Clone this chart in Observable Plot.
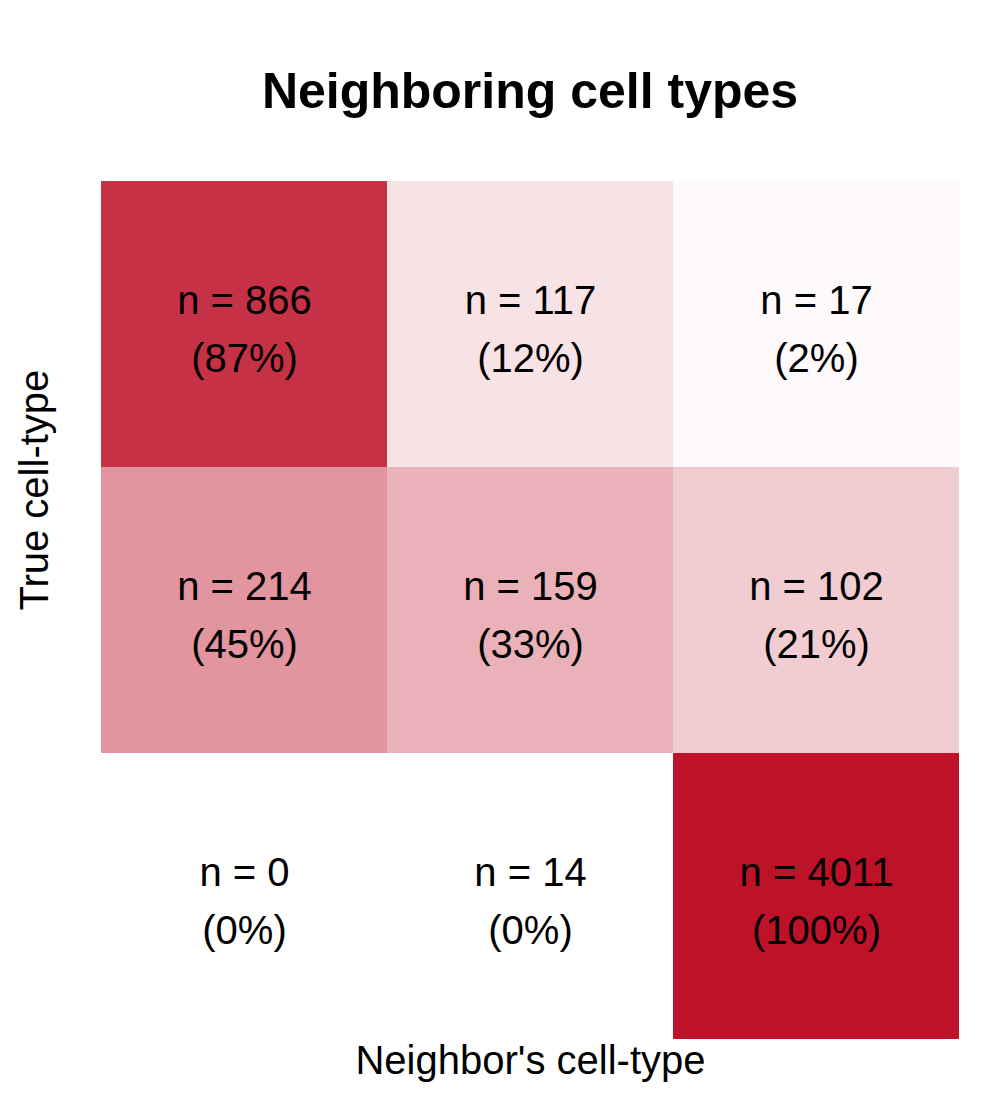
<!DOCTYPE html>
<html>
<head>
<script src="https://cdn.jsdelivr.net/npm/d3@7"></script>
<script src="https://cdn.jsdelivr.net/npm/@observablehq/plot@0.6"></script>
<style>
body { margin: 0; background: white; font-family: "Liberation Sans", Arial, sans-serif; }
#title { height: 180px; box-sizing: border-box; padding-top: 62px; padding-left: 60px; text-align: center; font-size: 50px; font-weight: bold; }
</style>
</head>
<body>
<div id="title">Neighboring cell types</div>
<div id="chart"></div>
<script>
const trueTypes = ["A", "B", "C"];
const neighborTypes = ["A", "B", "C"];
const counts = [
  [866, 117, 17],
  [214, 159, 102],
  [0, 14, 4011]
];
const percents = [
  [87, 12, 2],
  [45, 33, 21],
  [0, 0, 100]
];

const cells = [];
trueTypes.forEach((t, i) => neighborTypes.forEach((n, j) => {
  cells.push({ t, n, count: counts[i][j], pct: percents[i][j] });
}));

const chart = Plot.plot({
  width: 1000,
  height: 920,
  marginTop: 0,
  marginLeft: 100,
  marginRight: 40,
  marginBottom: 60,
  x: { domain: neighborTypes, padding: 0, axis: null },
  y: { domain: trueTypes, padding: 0, axis: null },
  color: { type: "linear", domain: [0, 100], range: ["white", "#BE1229"] },
  style: { fontFamily: "Liberation Sans, Arial, sans-serif" },
  marks: [
    Plot.cell(cells, { x: "n", y: "t", fill: "pct" }),
    Plot.text(cells, {
      x: "n", y: "t",
      text: d => `n = ${d.count}\n(${d.pct}%)`,
      fontSize: 40, fill: "black", lineHeight: 1.45
    }),
    Plot.text(["Neighbor's cell-type"], { frameAnchor: "bottom", dy: 33, fontSize: 40, fill: "black" }),
    Plot.text(["True cell-type"], { frameAnchor: "left", rotate: -90, dx: -65, fontSize: 40, fill: "black" })
  ]
});
d3.select("#chart").append(() => chart);
</script>
</body>
</html>
